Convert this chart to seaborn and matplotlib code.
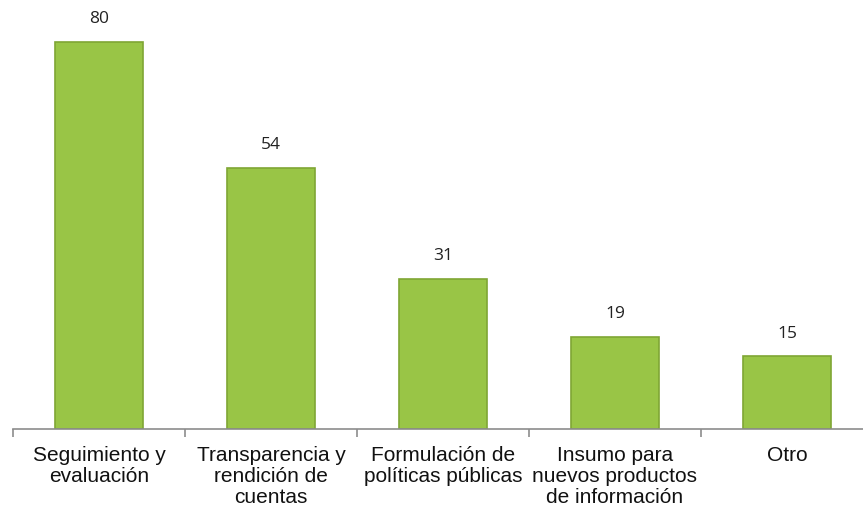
import numpy as np
import pandas as pd
import seaborn as sns
import matplotlib.pyplot as plt

categorias = ['Seguimiento y\nevaluación', 'Transparencia y\nrendición de\ncuentas',
              'Formulación de\npolíticas públicas', 'Insumo para\nnuevos productos\nde información',
              'Otro']
valores = [80, 54, 31, 19, 15]

df = pd.DataFrame({'categoria': categorias, 'valor': valores})

sns.set_style('white')
plt.rcParams['font.family'] = ['Liberation Sans', 'DejaVu Sans']

fig = plt.figure(figsize=(8.63, 5.14), dpi=100)
ax = fig.add_axes([13/863, 1 - 429/514, 860/863, 429/514])

sns.barplot(data=df, x='categoria', y='valor', color='#99C546', width=0.51,
            edgecolor='#7FA634', linewidth=1.2, saturation=1, ax=ax)

for i, v in enumerate(valores):
    ax.text(i, v + 4.7, str(v), ha='center', va='center', fontsize=12.5,
            family=['Open Sans', 'DejaVu Sans'], color='#222222')

ax.set_ylim(0, 88.6)
ax.set_xlim(-0.5, 4.5)
ax.set_xlabel('')
ax.set_ylabel('')
ax.set_yticks([])
for s in ['top', 'right', 'left']:
    ax.spines[s].set_visible(False)
ax.spines['bottom'].set_color('#8c8c8c')
ax.spines['bottom'].set_linewidth(1.2)

ax.tick_params(axis='x', which='major', length=0, pad=12, labelsize=15, labelcolor='#111111')
for lbl in ax.get_xticklabels():
    lbl.set_linespacing(1.15)
ax.set_xticks(np.arange(-0.5, 5, 1), minor=True)
ax.tick_params(axis='x', which='minor', length=6, width=1.2, color='#8c8c8c', direction='out')
ax.xaxis.set_ticks_position('bottom')

fig.savefig('out.png', dpi=100)
